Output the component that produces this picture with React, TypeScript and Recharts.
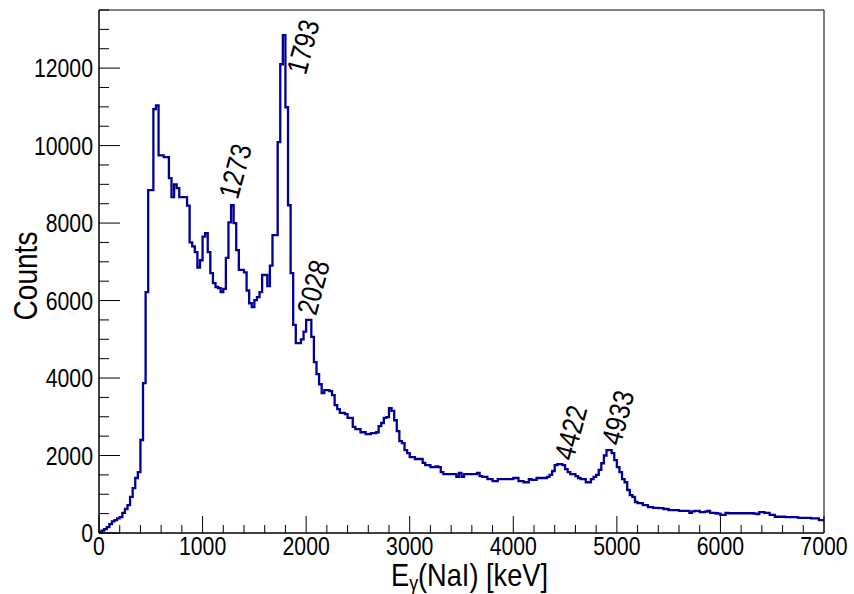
import { LineChart, Line, XAxis, YAxis, ReferenceArea, ReferenceDot, Label } from 'recharts';

const BIN_WIDTH = 25; // keV per bin, 0..7000 keV

// counts per bin, one array per 1000 keV
const counts0to1000 = [
  20, 60, 100, 150, 230, 300, 330, 380, 410, 520,
  620, 720, 930, 1160, 1420, 1570, 2400, 3870, 6220, 8850,
  8850, 10940, 11040, 9750, 9750, 9700, 9700, 9160, 8670, 9000,
  8900, 8670, 8670, 8670, 8450, 7500, 7400, 7250, 6850, 7040,
];
const counts1000to2000 = [
  7650, 7740, 7250, 6710, 6450, 6350, 6320, 6220, 6300, 7100,
  8020, 8460, 8000, 7300, 6790, 6790, 6730, 6260, 5930, 5830,
  6010, 6090, 6220, 6660, 6660, 6370, 6900, 7690, 7690, 10090,
  12100, 12850, 10990, 8460, 6710, 5370, 4900, 4900, 5000, 5200,
];
const counts2000to3000 = [
  5500, 5500, 5060, 4410, 4100, 3840, 3610, 3690, 3690, 3660,
  3560, 3300, 3200, 3100, 3100, 3070, 2970, 2970, 2740, 2680,
  2680, 2600, 2600, 2550, 2550, 2580, 2580, 2600, 2760, 2840,
  2970, 2990, 3220, 3150, 2910, 2630, 2370, 2320, 2140, 2060,
];
const counts3000to4000 = [
  1960, 1960, 1910, 1910, 1910, 1810, 1750, 1750, 1700, 1700,
  1720, 1700, 1570, 1520, 1520, 1520, 1520, 1520, 1450, 1550,
  1450, 1520, 1520, 1520, 1520, 1520, 1550, 1470, 1450, 1450,
  1390, 1390, 1340, 1340, 1390, 1390, 1390, 1390, 1390, 1390,
];
const counts4000to5000 = [
  1420, 1420, 1340, 1340, 1310, 1310, 1390, 1370, 1370, 1420,
  1420, 1420, 1420, 1450, 1500, 1600, 1750, 1780, 1780, 1750,
  1650, 1570, 1520, 1520, 1470, 1420, 1390, 1390, 1310, 1310,
  1390, 1450, 1500, 1630, 1800, 2000, 2140, 2140, 2060, 1880,
];
const counts5000to6000 = [
  1700, 1570, 1390, 1310, 1110, 980, 930, 800, 770, 770,
  720, 720, 670, 670, 650, 650, 640, 640, 620, 620,
  590, 590, 590, 590, 570, 570, 570, 570, 520, 560,
  570, 570, 540, 540, 550, 570, 520, 520, 510, 500,
];
const counts6000to7000 = [
  470, 470, 520, 510, 510, 510, 510, 510, 510, 510,
  510, 510, 510, 500, 490, 540, 540, 520, 520, 470,
  470, 420, 420, 420, 420, 410, 410, 410, 410, 410,
  390, 390, 390, 390, 390, 380, 380, 380, 330, 330,
];

const xTicks = [
  0, 200, 400, 600, 800, 1000, 1200, 1400, 1600, 1800, 2000, 2200, 2400, 2600, 2800, 3000,
  3200, 3400, 3600, 3800, 4000, 4200, 4400, 4600, 4800, 5000, 5200, 5400, 5600, 5800, 6000,
  6200, 6400, 6600, 6800, 7000,
];
const yTicks = [
  0, 500, 1000, 1500, 2000, 2500, 3000, 3500, 4000, 4500, 5000, 5500, 6000, 6500, 7000,
  7500, 8000, 8500, 9000, 9500, 10000, 10500, 11000, 11500, 12000, 12500, 13000, 13500,
];

// peak labels and where their text starts (keV, counts)
const peakLabels = ['1273', '1793', '2028', '4422', '4933'];
const peakLabelE = [1340, 1995, 2095, 4580, 5035];
const peakLabelCounts = [8590, 11800, 5590, 1840, 2225];

const counts = [
  ...counts0to1000,
  ...counts1000to2000,
  ...counts2000to3000,
  ...counts3000to4000,
  ...counts4000to5000,
  ...counts5000to6000,
  ...counts6000to7000,
];

const data = counts
  .map((c, i) => ({ e: i * BIN_WIDTH, c }))
  .concat([{ e: counts.length * BIN_WIDTH, c: counts[counts.length - 1] }]);

const FONT = '"Liberation Sans", Arial, Helvetica, sans-serif';
const SQUEEZE = 0.85;

function XTick({ x, y, payload }: any) {
  const v = payload.value;
  const major = v % 1000 === 0;
  return (
    <g>
      <line x1={x} y1={y} x2={x} y2={y - (major ? 17 : 8)} stroke="#000" />
      {major && (
        <text
          transform={`translate(${x},${y + 22}) scale(${SQUEEZE},1)`}
          textAnchor="middle"
          fontSize={25}
          fontFamily={FONT}
          fill="#000"
        >
          {v}
        </text>
      )}
    </g>
  );
}

function YTick({ x, y, payload }: any) {
  const v = payload.value;
  const major = v % 2000 === 0;
  return (
    <g>
      <line x1={x} y1={y} x2={x + (major ? 21 : 10)} y2={y} stroke="#000" />
      {major && (
        <text
          transform={`translate(${x - 6},${y + 9}) scale(${SQUEEZE},1)`}
          textAnchor="end"
          fontSize={25}
          fontFamily={FONT}
          fill="#000"
        >
          {v}
        </text>
      )}
    </g>
  );
}

export default function App() {
  return (
    <div style={{ position: 'absolute', left: 0, top: 0, width: 854, height: 594, background: '#fff' }}>
      <LineChart width={854} height={594} data={data} margin={{ top: 10, right: 30, bottom: 0, left: 0 }}>
        <XAxis
          type="number"
          dataKey="e"
          domain={[0, 7000]}
          ticks={xTicks}
          interval={0}
          height={61}
          tickSize={0}
          tickMargin={0}
          tickLine={false}
          axisLine={{ stroke: '#000' }}
          tick={XTick}
        >
          <Label
            content={() => (
              <text
                transform={`translate(548,586) scale(${SQUEEZE},1)`}
                textAnchor="end"
                fontSize={32}
                fontFamily={FONT}
                fill="#000"
              >
                E
                <tspan dy={4} fontSize={21}>γ</tspan>
                <tspan dy={-4} fontSize={32}>(NaI) [keV]</tspan>
              </text>
            )}
          />
        </XAxis>
        <YAxis
          type="number"
          domain={[0, 13500]}
          ticks={yTicks}
          interval={0}
          width={99}
          tickSize={0}
          tickMargin={0}
          tickLine={false}
          axisLine={{ stroke: '#000' }}
          tick={YTick}
        >
          <Label
            content={() => (
              <text
                transform={`translate(37,276) rotate(-90) scale(${SQUEEZE},1)`}
                textAnchor="middle"
                fontSize={33}
                fontFamily={FONT}
                fill="#000"
              >
                Counts
              </text>
            )}
          />
        </YAxis>
        <ReferenceArea x1={0} x2={7000} y1={0} y2={13500} fill="none" stroke="#000" strokeWidth={1} />
        <Line
          type="stepAfter"
          dataKey="c"
          stroke="#000099"
          strokeWidth={2.3}
          dot={false}
          isAnimationActive={false}
        />
        {peakLabels.map((label, i) => (
          <ReferenceDot
            key={label}
            x={peakLabelE[i]}
            y={peakLabelCounts[i]}
            r={0}
            shape={(p: any) => (
              <text
                transform={`translate(${p.cx},${p.cy}) rotate(-75) scale(${SQUEEZE},1)`}
                fontSize={29}
                fontFamily={FONT}
                fill="#000"
              >
                {label}
              </text>
            )}
          />
        ))}
      </LineChart>
    </div>
  );
}
